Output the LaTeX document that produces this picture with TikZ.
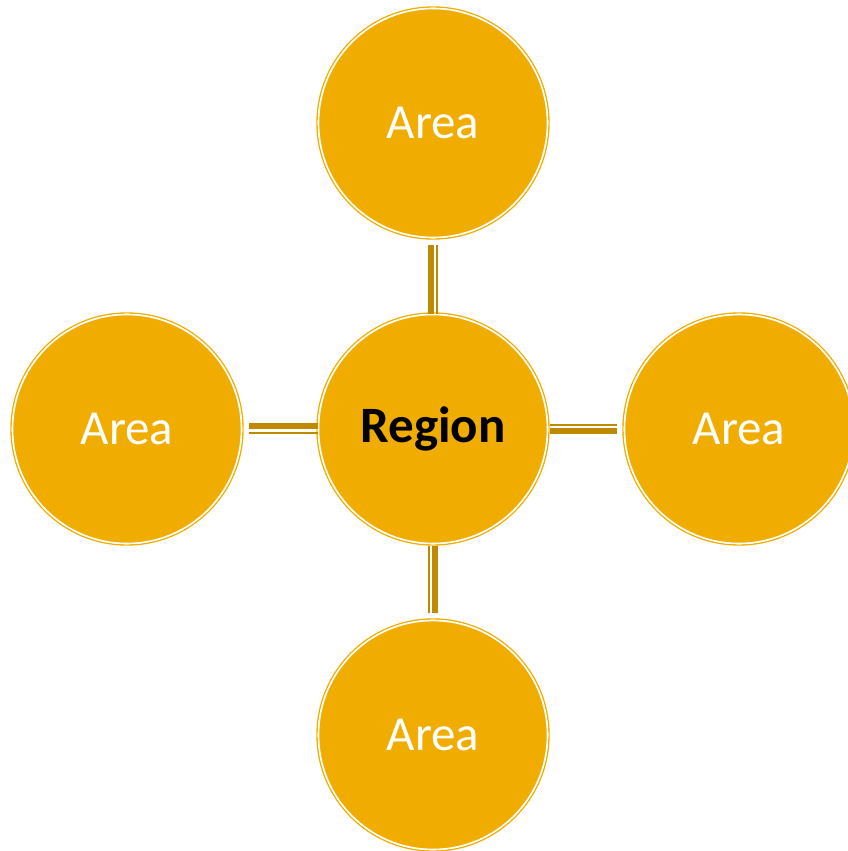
\documentclass[tikz,border=0pt]{standalone}
\usepackage{fontspec}
\setmainfont{Carlito}
\definecolor{gold}{HTML}{F0AD00}
\definecolor{darkgold}{HTML}{C08A00}
\begin{document}
\begin{tikzpicture}[x=1pt,y=-1pt,
  bubble/.style={circle,fill=gold,draw=white,line width=1.6pt,minimum size=229pt,inner sep=0pt,
    font=\fontsize{49}{52}\selectfont,text=white,
    append after command={\pgfextra{\draw[gold,line width=1.4pt] (\tikzlastnode.center) circle (116pt);}}},
  thick link/.style={darkgold,line width=6pt},
  thin link/.style={darkgold,line width=2pt}]
\useasboundingbox (0,0) rectangle (848,851);
\node[bubble] (top) at (433,123) {Area};
\node[bubble,text=black,font=\fontsize{51}{54}\selectfont\bfseries] (center) at (433,429) {Region};
\node[bubble] (left) at (127,429) {Area};
\node[bubble] (right) at (739,429) {Area};
\node[bubble] (bottom) at (433,735) {Area};
% top connector
\draw[thick link,shorten <=7pt,shorten >=0pt] ([xshift=-2pt]top.south) -- ([xshift=-2pt]center.north);
\draw[thin link,shorten <=7pt,shorten >=0pt] ([xshift=4pt]top.south) -- ([xshift=4pt]center.north);
% bottom connector
\draw[thick link,shorten <=2pt,shorten >=7pt] ([xshift=2pt]center.south) -- ([xshift=2pt]bottom.north);
\draw[thin link,shorten <=2pt,shorten >=7pt] ([xshift=-4pt]center.south) -- ([xshift=-4pt]bottom.north);
% left connector
\draw[thick link,shorten <=7pt,shorten >=0pt] ([yshift=3pt]left.east) -- ([yshift=3pt]center.west);
\draw[thin link,shorten <=7pt,shorten >=0pt] ([yshift=-4pt]left.east) -- ([yshift=-4pt]center.west);
% right connector
\draw[thick link,shorten <=2pt,shorten >=7pt] ([yshift=-1.5pt]center.east) -- ([yshift=-1.5pt]right.west);
\draw[thin link,shorten <=2pt,shorten >=7pt] ([yshift=4pt]center.east) -- ([yshift=4pt]right.west);
\end{tikzpicture}
\end{document}
